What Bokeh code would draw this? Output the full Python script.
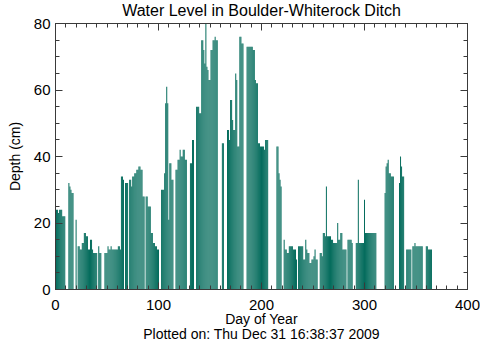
from bokeh.plotting import figure
from bokeh.models import Range1d, LinearAxis, FixedTicker, ColumnDataSource
from bokeh.embed import file_html
from bokeh.resources import INLINE

title_text = "Water Level in Boulder-Whiterock Ditch"
x_label = "Day of Year"
y_label = "Depth (cm)"
plotted_on = "Plotted on: Thu Dec 31 16:38:37 2009"

x_ticks = [0, 100, 200, 300, 400]
x_minor = list(range(0, 401, 10))
y_ticks = [0, 20, 40, 60, 80]
y_minor = list(range(0, 81, 5))

days = list(range(1, 366))
depth_jan_apr = [
    24, 24, 23, 24, 24, 24, 22, 22, 22, 0,
    0, 0, 32, 31, 30, 29, 29, 0, 0, 21,
    0, 13, 13, 12, 12, 14, 14, 17, 17, 16,
    16, 12, 12, 15, 15, 12, 11, 11, 11, 11,
    0, 13, 11, 11, 0, 0, 0, 11, 11, 11,
    13, 12, 12, 13, 12, 12, 12, 12, 12, 12,
    13, 13, 12, 34, 34, 33, 0, 32, 32, 32,
    0, 33, 33, 31, 34, 34, 35, 35, 36, 36,
    37, 37, 36, 36, 28, 28, 0, 28, 28, 25,
    25, 25, 17, 17, 14, 14, 13, 13, 12, 12,
    0, 0, 30, 30, 30, 35, 56, 61, 56, 21,
    38, 38, 33, 33, 0, 0, 36, 36, 39, 39,
]
depth_may_aug = [
    42, 40, 40, 42, 42, 39, 39, 0, 0, 0,
    38, 38, 45, 45, 0, 0, 55, 55, 55, 53,
    53, 75, 75, 72, 68, 80, 67, 66, 63, 63,
    72, 72, 75, 75, 76, 75, 75, 0, 0, 0,
    0, 44, 44, 0, 0, 0, 48, 48, 45, 57,
    57, 51, 48, 48, 65, 63, 43, 43, 76, 76,
    74, 74, 0, 0, 0, 73, 73, 73, 73, 73,
    73, 72, 72, 63, 62, 62, 44, 44, 43, 43,
    43, 43, 42, 45, 45, 45, 0, 0, 0, 0,
    0, 0, 0, 0, 43, 43, 35, 33, 31, 0,
    0, 15, 12, 12, 11, 11, 13, 13, 13, 13,
    12, 12, 12, 9, 0, 13, 13, 13, 13, 13,
]
depth_sep_dec = [
    9, 9, 15, 12, 11, 11, 8, 8, 9, 9,
    10, 12, 9, 9, 0, 0, 11, 11, 10, 17,
    17, 16, 31, 16, 16, 16, 16, 15, 15, 14,
    14, 14, 14, 20, 15, 15, 17, 17, 12, 12,
    12, 12, 0, 15, 15, 15, 15, 14, 0, 0,
    0, 14, 14, 33, 14, 14, 14, 14, 14, 27,
    17, 17, 17, 17, 17, 17, 17, 17, 17, 17,
    17, 0, 0, 0, 0, 0, 0, 0, 0, 29,
    37, 38, 39, 35, 35, 34, 34, 34, 0, 0,
    0, 0, 0, 32, 40, 37, 34, 34, 0, 0,
    12, 12, 12, 12, 12, 0, 13, 13, 14, 13,
    13, 13, 13, 13, 13, 13, 0, 0, 0, 13,
    13, 12, 12, 12, 12,
]
depth_cm = depth_jan_apr + depth_may_aug + depth_sep_dec

FONT = "Liberation Sans"
AX = "#3a3a3a"

p = figure(width=480, height=344, output_backend="svg", toolbar_location=None,
           x_range=Range1d(0, 400), y_range=Range1d(0, 80),
           min_border_left=55, min_border_right=13, min_border_top=22,
           min_border_bottom=55, background_fill_color="white",
           border_fill_color="white")
p.grid.visible = False
p.outline_line_color = AX

p.title.text = title_text + "\n"
p.title.align = "center"
p.title.text_font = FONT
p.title.text_font_size = "16px"
p.title.text_font_style = "normal"
p.title.text_color = "black"
p.title.text_line_height = 0.25
p.title.standoff = 0
p.title.offset = 0

src = ColumnDataSource(dict(day=days, depth=depth_cm))
p.vbar(x="day", top="depth", width=0.95, bottom=0, source=src,
       fill_color="#006a5a", line_color=None)

def style_axis(ax, ticks, minor, show_labels):
    ax.ticker = FixedTicker(ticks=ticks, minor_ticks=minor)
    ax.axis_line_color = AX
    ax.major_tick_line_color = AX
    ax.minor_tick_line_color = AX
    ax.major_tick_in = 7
    ax.major_tick_out = 0
    ax.minor_tick_in = 4
    ax.minor_tick_out = 0
    ax.major_label_text_font = FONT
    if show_labels:
        ax.major_label_text_color = "black"
        ax.major_label_text_font_size = "15px"
    else:
        ax.major_label_text_color = None
        ax.major_label_text_font_size = "1px"
        ax.major_label_standoff = 0

xa = p.xaxis[0]
style_axis(xa, x_ticks, x_minor, True)
xa.major_label_standoff = 10
xa.axis_label = x_label + "\n" + plotted_on
xa.axis_label_text_font = FONT
xa.axis_label_text_font_size = "14px"
xa.axis_label_text_font_style = "normal"
xa.axis_label_text_color = "black"
xa.axis_label_text_line_height = 0.95
xa.axis_label_standoff = -2

ya = p.yaxis[0]
style_axis(ya, y_ticks, y_minor, True)
ya.major_label_standoff = 5
ya.axis_label = y_label
ya.axis_label_text_font = FONT
ya.axis_label_text_font_size = "14px"
ya.axis_label_text_font_style = "normal"
ya.axis_label_text_color = "black"
ya.axis_label_standoff = 8

top = LinearAxis()
style_axis(top, x_ticks, x_minor, False)
p.add_layout(top, "above")
right = LinearAxis()
style_axis(right, y_ticks, y_minor, False)
p.add_layout(right, "right")

open("out.html", "w").write(file_html(p, INLINE))
